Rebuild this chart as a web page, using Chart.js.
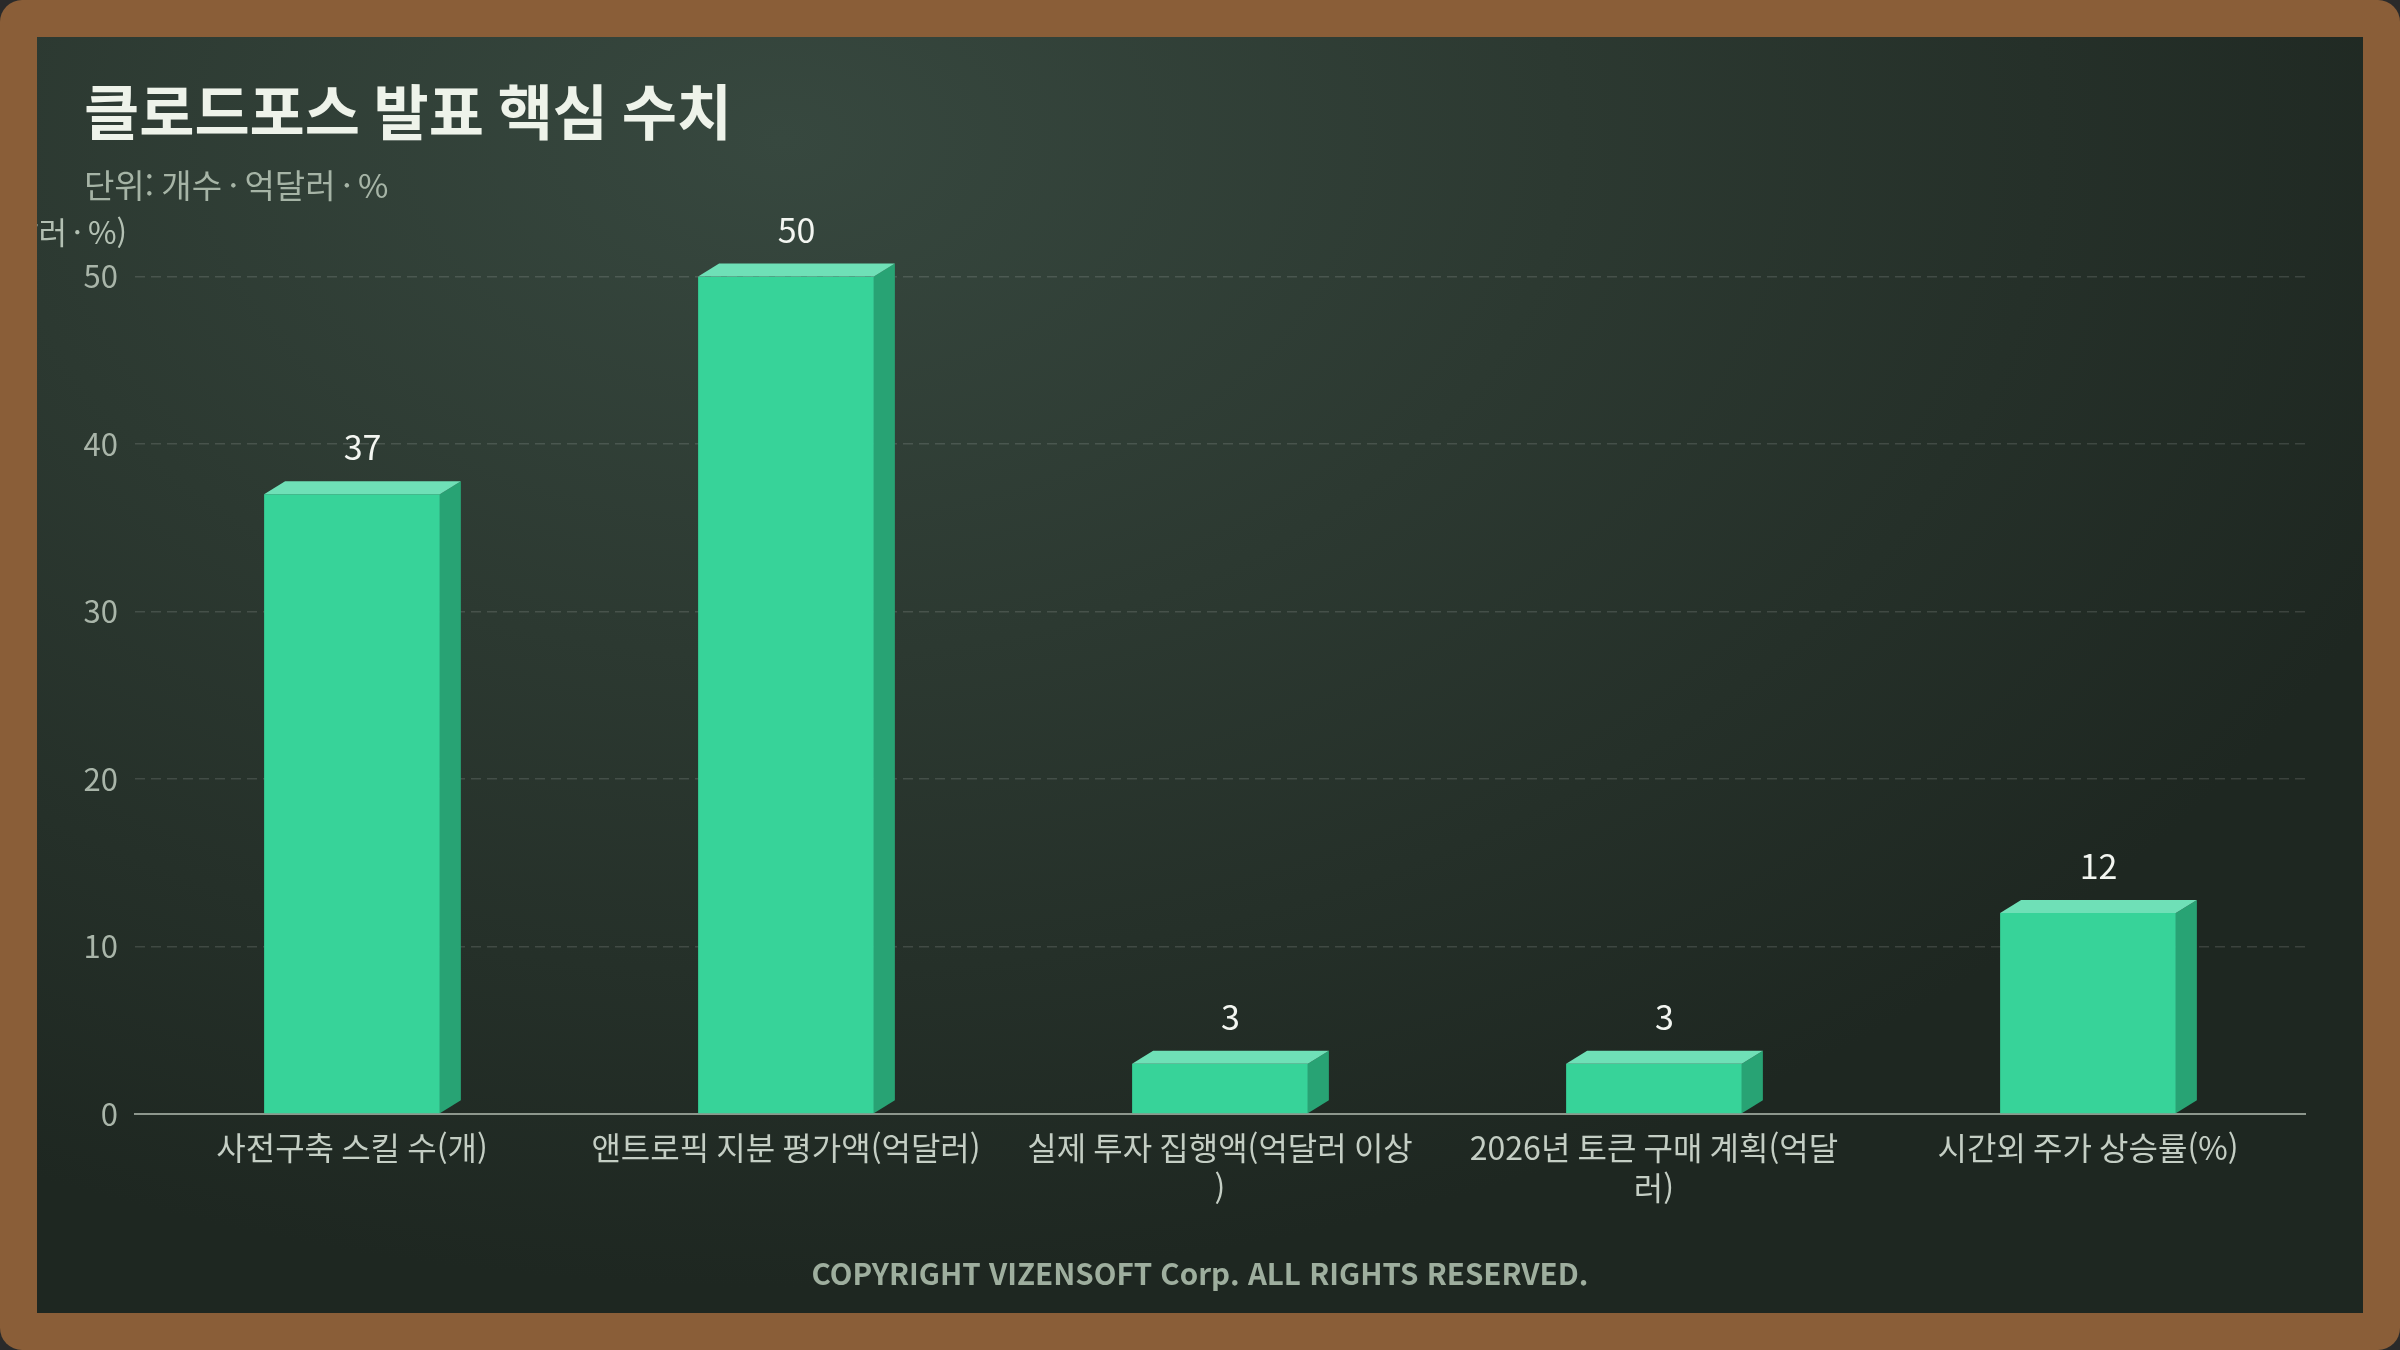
<!DOCTYPE html>
<html lang="ko">
<head>
<meta charset="utf-8">
<title>클로드포스 발표 핵심 수치</title>
<script src="https://cdn.jsdelivr.net/npm/chart.js@4.4.1/dist/chart.umd.min.js"></script>
<style>
  html, body { margin: 0; padding: 0; background: #2a2a2a; }
  #frame {
    position: absolute; left: 0; top: 0; width: 2400px; height: 1350px;
    background: #8a5e38; border-radius: 22px;
  }
  #board {
    position: absolute; left: 37px; top: 37px; width: 2326px; height: 1276px;
    background: radial-gradient(ellipse 75% 90% at 32% 8%, #37483f 0%, #2c3931 45%, #1e2721 100%);
    overflow: hidden;
  }
  #board canvas { position: absolute; left: 0; top: 0; }
  #copy {
    position: absolute; left: 0; right: 0; top: 1214px; text-align: center;
    font-family: "Noto Sans CJK KR", "Noto Sans", sans-serif; font-weight: 700;
    font-size: 29.5px; color: #9eae9e;
  }
</style>
</head>
<body>
<div id="frame">
  <div id="board">
    <canvas id="grafico" width="2326" height="1276"></canvas>
    <div id="copy">COPYRIGHT VIZENSOFT Corp. ALL RIGHTS RESERVED.</div>
  </div>
</div>
<script>
// Dados do gráfico
const categorias = [
  ["사전구축 스킬 수(개)"],
  ["앤트로픽 지분 평가액(억달러)"],
  ["실제 투자 집행액(억달러 이상", ")"],
  ["2026년 토큰 구매 계획(억달", "러)"],
  ["시간외 주가 상승률(%)"]
];
const valores = [37, 50, 3, 3, 12];
const eixoY = { min: 0, max: 50, passo: 10 };
const tituloTexto = "클로드포스 발표 핵심 수치";
const subtituloTexto = "단위: 개수\u2009·\u2009억달러\u2009·\u2009%";
const eixoYTexto = "수치(개수\u2009·\u2009억달러\u2009·\u2009%)";

const FONTE = '"Noto Sans CJK KR", "Noto Sans", sans-serif';
const DX = 21, DY = 13; // profundidade do efeito 3D

// Plugin: faces 3D, rótulos de valor e título do eixo Y
const plugin3D = {
  id: 'barras3d',
  afterDatasetsDraw(chart) {
    const ctx = chart.ctx;
    const meta = chart.getDatasetMeta(0);
    ctx.save();
    meta.data.forEach((bar, i) => {
      const left = bar.x - bar.width / 2;
      const right = bar.x + bar.width / 2;
      const top = bar.y;
      const base = bar.base;
      // lateral
      ctx.fillStyle = '#28a374';
      ctx.beginPath();
      ctx.moveTo(right, top);
      ctx.lineTo(right + DX, top - DY);
      ctx.lineTo(right + DX, base - DY);
      ctx.lineTo(right, base);
      ctx.closePath();
      ctx.fill();
      // topo
      ctx.fillStyle = '#6fe0b7';
      ctx.beginPath();
      ctx.moveTo(left, top);
      ctx.lineTo(left + DX, top - DY);
      ctx.lineTo(right + DX, top - DY);
      ctx.lineTo(right, top);
      ctx.closePath();
      ctx.fill();
      // valor
      ctx.fillStyle = '#f3f6f1';
      ctx.font = '34px ' + FONTE;
      ctx.textAlign = 'center';
      ctx.textBaseline = 'alphabetic';
      ctx.fillText(String(valores[i]), bar.x + DX / 2, top - DY - 21);
    });
    // título do eixo Y (cortado na borda, como no original)
    ctx.fillStyle = '#b3c0b3';
    ctx.font = '31px ' + FONTE;
    ctx.textAlign = 'right';
    ctx.textBaseline = 'middle';
    ctx.fillText(eixoYTexto, chart.chartArea.left - 8, 195);
    ctx.restore();
  }
};

const ctx = document.getElementById('grafico').getContext('2d');
const meuGrafico = new Chart(ctx, {
  type: 'bar',
  data: {
    labels: categorias,
    datasets: [{
      data: valores,
      backgroundColor: '#37d399',
      borderWidth: 0,
      categoryPercentage: 1,
      barPercentage: 0.405
    }]
  },
  options: {
    responsive: false,
    animation: false,
    devicePixelRatio: 1,
    events: [],
    layout: { padding: { left: 47, right: 58, top: 0, bottom: 79 } },
    plugins: {
      legend: { display: false },
      tooltip: { enabled: false },
      title: {
        display: true,
        text: tituloTexto,
        align: 'start',
        color: '#eef3ea',
        font: { family: FONTE, size: 60, weight: 'bold' },
        padding: { top: 39, bottom: 18 }
      },
      subtitle: {
        display: true,
        text: subtituloTexto,
        align: 'start',
        color: '#a6b4a6',
        font: { family: FONTE, size: 33 },
        padding: { top: 0, bottom: 71 }
      }
    },
    scales: {
      y: {
        min: eixoY.min,
        max: eixoY.max,
        ticks: {
          stepSize: eixoY.passo,
          color: '#a9b5a9',
          font: { family: FONTE, size: 31 },
          padding: 17
        },
        grid: {
          drawTicks: false,
          color: ctx => ctx.tick.value === 0 ? 'rgba(0,0,0,0)' : 'rgba(255,255,255,0.13)',
          lineWidth: 1.5
        },
        border: { display: false, dash: [10, 6] },
        afterFit: s => { s.width = 51; }
      },
      x: {
        ticks: {
          color: '#c4cec4',
          font: { family: FONTE, size: 32, lineHeight: 1.25 },
          padding: 14,
          maxRotation: 0,
          autoSkip: false
        },
        grid: { display: false, drawTicks: false },
        border: { display: true, color: '#8d978d', width: 2 },
        afterFit: s => { s.height = 120; }
      }
    }
  },
  plugins: [plugin3D]
});
</script>
</body>
</html>
